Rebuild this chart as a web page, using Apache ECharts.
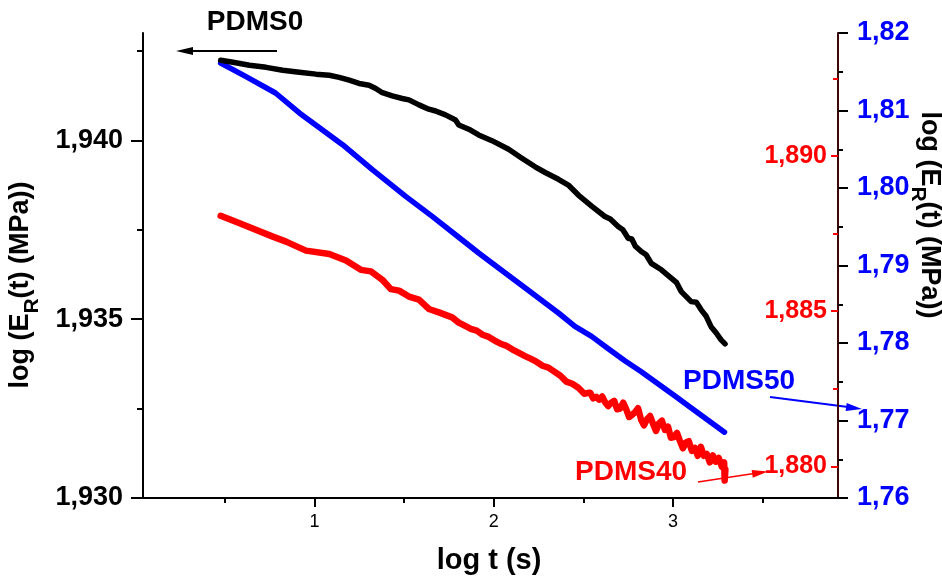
<!DOCTYPE html>
<html>
<head>
<meta charset="utf-8">
<script src="https://cdn.jsdelivr.net/npm/echarts@6/dist/echarts.min.js"></script>
<style>
  html, body { margin: 0; padding: 0; background: #fff; }
  #chart { width: 942px; height: 576px; }
</style>
</head>
<body>
<div id="chart"></div>
<script>
// Stress relaxation curves: log E_R(t) against log t for three PDMS samples.

// PDMS0 (left axis)
const pdms0LogT = [0.477, 0.546, 0.638, 0.731, 0.823, 0.916, 1.009, 1.083, 1.138, 1.194, 1.249, 1.305, 1.342,
  1.379, 1.434, 1.490, 1.527, 1.583, 1.638, 1.676, 1.731, 1.787, 1.805, 1.861, 1.916, 1.990, 2.083, 2.157,
  2.231, 2.287, 2.361, 2.416, 2.472, 2.546, 2.620, 2.650, 2.694, 2.720, 2.750, 2.770, 2.790, 2.823, 2.850,
  2.879, 2.935, 2.990, 3.020, 3.046, 3.101, 3.130, 3.157, 3.185, 3.212, 3.240, 3.268, 3.290];
const pdms0LogE = [1.94224, 1.94218, 1.94210, 1.94204, 1.94196, 1.94190, 1.94185, 1.94182, 1.94176, 1.94168,
  1.94159, 1.94154, 1.94145, 1.94133, 1.94124, 1.94117, 1.94113, 1.94099, 1.94087, 1.94082, 1.94071, 1.94057,
  1.94043, 1.94031, 1.94015, 1.93999, 1.93975, 1.93950, 1.93926, 1.93910, 1.93891, 1.93875, 1.93847, 1.93816,
  1.93787, 1.93780, 1.93759, 1.93750, 1.93726, 1.93724, 1.93704, 1.93689, 1.93680, 1.93656, 1.93638, 1.93615,
  1.93602, 1.93577, 1.93549, 1.93547, 1.93526, 1.93508, 1.93479, 1.93462, 1.93442, 1.93431];

// PDMS40 (inner right axis)
const pdms40LogT = [0.477, 0.583, 0.768, 0.842, 0.953, 1.083, 1.176, 1.259, 1.315, 1.379, 1.426, 1.472, 1.527,
  1.583, 1.638, 1.694, 1.768, 1.805, 1.838, 1.872, 1.905, 1.938, 1.972, 2.005, 2.038, 2.072, 2.105, 2.138,
  2.172, 2.205, 2.238, 2.272, 2.305, 2.338, 2.372, 2.405, 2.438, 2.472, 2.505, 2.522, 2.538, 2.555, 2.572,
  2.588, 2.605, 2.622, 2.638, 2.655, 2.672, 2.688, 2.705, 2.722, 2.738, 2.755, 2.772, 2.788, 2.805, 2.822,
  2.838, 2.855, 2.872, 2.888, 2.905, 2.922, 2.938, 2.955, 2.972, 2.988, 3.005, 3.022, 3.038, 3.055, 3.072,
  3.088, 3.105, 3.122, 3.138, 3.155, 3.172, 3.188, 3.205, 3.222, 3.238, 3.255, 3.272, 3.285, 3.288, 3.292];
const pdms40LogE = [1.88807, 1.88783, 1.88740, 1.88724, 1.88695, 1.88684, 1.88663, 1.88633, 1.88628, 1.88601,
  1.88571, 1.88566, 1.88547, 1.88537, 1.88507, 1.88496, 1.88480, 1.88463, 1.88453, 1.88443, 1.88437, 1.88424,
  1.88417, 1.88405, 1.88395, 1.88388, 1.88376, 1.88366, 1.88356, 1.88347, 1.88337, 1.88324, 1.88318, 1.88305,
  1.88292, 1.88273, 1.88266, 1.88253, 1.88234, 1.88236, 1.88237, 1.88219, 1.88224, 1.88215, 1.88225, 1.88206,
  1.88194, 1.88205, 1.88211, 1.88184, 1.88186, 1.88205, 1.88185, 1.88159, 1.88166, 1.88174, 1.88187, 1.88150,
  1.88132, 1.88152, 1.88162, 1.88138, 1.88114, 1.88139, 1.88147, 1.88117, 1.88128, 1.88092, 1.88094, 1.88108,
  1.88082, 1.88058, 1.88077, 1.88081, 1.88050, 1.88059, 1.88034, 1.88063, 1.88034, 1.88040, 1.88013, 1.88035,
  1.88015, 1.88027, 1.87999, 1.88013, 1.87954, 1.87990];

// PDMS50 (outer right axis)
const pdms50LogT = [0.477, 0.616, 0.783, 0.916, 1.064, 1.157, 1.323, 1.509, 1.657, 1.787, 1.916, 1.990, 2.176,
  2.361, 2.453, 2.546, 2.639, 2.731, 2.823, 3.009, 3.138, 3.287];
const pdms50LogE = [1.81613, 1.81440, 1.81226, 1.80968, 1.80717, 1.80559, 1.80236, 1.79892, 1.79634, 1.79397,
  1.79161, 1.79032, 1.78710, 1.78387, 1.78214, 1.78085, 1.77926, 1.77772, 1.77630, 1.77320, 1.77101, 1.76849];

// Tick positions
const xMajorTicks = [1, 2, 3];
const xMinorTicks = [0.5, 1.5, 2.5, 3.5];
const leftMajorTicks = [1.930, 1.935, 1.940];
const leftMinorTicks = [1.9325, 1.9375, 1.9425];
const redMajorTicks = [1.880, 1.885, 1.890];
const redMinorTicks = [1.8825, 1.8875, 1.8925];
const blueMajorTicks = [1.76, 1.77, 1.78, 1.79, 1.80, 1.81, 1.82];
const blueMinorTicks = [1.765, 1.775, 1.785, 1.795, 1.805, 1.815];

const FONT = '"Liberation Sans", Arial, sans-serif';
const RIGHT_LINE = '#3f0606';

const zip = (xs, ys) => xs.map((x, i) => [x, ys[i]]);
const comma = (digits) => (v) => Number(v).toFixed(digits).replace('.', ',');

const yBase = { type: 'value', splitLine: { show: false }, scale: false };

const chart = echarts.init(document.getElementById('chart'), null, { renderer: 'canvas' });

const nameRich = {
  a: { fontSize: 27, fontWeight: 'bold', fontFamily: FONT, color: '#000', verticalAlign: 'top', padding: [0, 0, 8, 0] },
  s: { fontSize: 21, fontWeight: 'bold', fontFamily: FONT, color: '#000', verticalAlign: 'bottom' }
};

chart.setOption({
  animation: false,
  backgroundColor: '#fff',
  grid: { left: 143, right: 104, top: 33, bottom: 78, containLabel: false },
  xAxis: [
    {
      type: 'value', min: 0.044, max: 3.92, position: 'bottom',
      splitLine: { show: false },
      axisLine: { lineStyle: { color: '#000', width: 2 } },
      axisTick: { customValues: xMajorTicks, length: 9, lineStyle: { color: '#000', width: 2 } },
      axisLabel: { customValues: xMajorTicks, fontSize: 18, fontFamily: FONT, color: '#000', margin: 15,
        formatter: (v) => String(v) }
    },
    {
      type: 'value', min: 0.044, max: 3.92, position: 'bottom',
      splitLine: { show: false },
      axisLine: { show: false },
      axisTick: { customValues: xMinorTicks, length: 5, lineStyle: { color: '#000', width: 2 } },
      axisLabel: { show: false }
    }
  ],
  yAxis: [
    Object.assign({}, yBase, {
      min: 1.930, max: 1.943, position: 'left',
      axisLine: { show: true, lineStyle: { color: '#000', width: 2 } },
      axisTick: { customValues: leftMajorTicks, length: 12, lineStyle: { color: '#000', width: 2 } },
      axisLabel: { customValues: leftMajorTicks, fontSize: 27, fontWeight: 'bold', fontFamily: FONT,
        color: '#000', margin: 20, formatter: comma(3) }
    }),
    Object.assign({}, yBase, {
      min: 1.930, max: 1.943, position: 'left',
      axisLine: { show: false },
      axisTick: { customValues: leftMinorTicks, length: 6, lineStyle: { color: '#000', width: 2 } },
      axisLabel: { show: false }
    }),
    Object.assign({}, yBase, {
      min: 1.87898, max: 1.89396, position: 'right',
      axisLine: { show: true, lineStyle: { color: RIGHT_LINE, width: 2 } },
      axisTick: { inside: true, customValues: redMajorTicks, length: 7, lineStyle: { color: '#ff0000', width: 2 } },
      axisLabel: { inside: true, customValues: redMajorTicks, fontSize: 25, fontWeight: 'bold', fontFamily: FONT,
        color: '#ff0000', margin: 11, formatter: comma(3) }
    }),
    Object.assign({}, yBase, {
      min: 1.87898, max: 1.89396, position: 'right',
      axisLine: { show: false },
      axisTick: { inside: true, customValues: redMinorTicks, length: 5, lineStyle: { color: '#ff0000', width: 2 } },
      axisLabel: { show: false }
    }),
    Object.assign({}, yBase, {
      min: 1.76, max: 1.82, position: 'right',
      axisLine: { show: false },
      axisTick: { customValues: blueMajorTicks, length: 10, lineStyle: { color: '#000', width: 2 } },
      axisLabel: { customValues: blueMajorTicks, fontSize: 27, fontWeight: 'bold', fontFamily: FONT,
        color: '#0000ff', margin: 19, formatter: comma(2) }
    }),
    Object.assign({}, yBase, {
      min: 1.76, max: 1.82, position: 'right',
      axisLine: { show: false },
      axisTick: { customValues: blueMinorTicks, length: 5, lineStyle: { color: '#000', width: 2 } },
      axisLabel: { show: false }
    })
  ],
  series: [
    {
      name: 'PDMS50', type: 'line', xAxisIndex: 0, yAxisIndex: 4, data: zip(pdms50LogT, pdms50LogE),
      showSymbol: false, symbol: 'none', smooth: false, clip: false,
      lineStyle: { color: '#0000ff', width: 5.5, cap: 'round', join: 'round' }
    },
    {
      name: 'PDMS40', type: 'line', xAxisIndex: 0, yAxisIndex: 2, data: zip(pdms40LogT, pdms40LogE),
      showSymbol: false, symbol: 'none', smooth: false, clip: false,
      lineStyle: { color: '#ff0000', width: 6.5, cap: 'round', join: 'round' }
    },
    {
      name: 'PDMS0', type: 'line', xAxisIndex: 0, yAxisIndex: 0, data: zip(pdms0LogT, pdms0LogE),
      showSymbol: false, symbol: 'none', smooth: false, clip: false,
      lineStyle: { color: '#000', width: 5.5, cap: 'round', join: 'round' }
    }
  ],
  graphic: [
    // axis titles
    {
      type: 'text', x: 25, y: 285, rotation: Math.PI / 2,
      style: { text: '{a|log (E}{s|R}{a|(t) (MPa))}', rich: nameRich, align: 'center', verticalAlign: 'middle' }
    },
    {
      type: 'text', x: 925, y: 215, rotation: -Math.PI / 2,
      style: { text: '{a|log (E}{s|R}{a|(t) (MPa))}', rich: nameRich, align: 'center', verticalAlign: 'middle' }
    },
    {
      type: 'text', x: 489, y: 561,
      style: { text: 'log t (s)', font: 'bold 29px ' + FONT, fill: '#000', align: 'center', verticalAlign: 'middle' }
    },
    // sample labels with arrows pointing to their axes
    {
      type: 'text', x: 255, y: 22,
      style: { text: 'PDMS0', font: 'bold 28px ' + FONT, fill: '#000', align: 'center', verticalAlign: 'middle' }
    },
    { type: 'line', shape: { x1: 277, y1: 51, x2: 190, y2: 51 }, style: { stroke: '#000', lineWidth: 2 } },
    { type: 'polygon', shape: { points: [[176, 51], [193, 47], [193, 55]] }, style: { fill: '#000' } },

    {
      type: 'text', x: 683, y: 381,
      style: { text: 'PDMS50', font: 'bold 28px ' + FONT, fill: '#0000ff', align: 'left', verticalAlign: 'middle' }
    },
    { type: 'line', shape: { x1: 770, y1: 397, x2: 848, y2: 407 }, style: { stroke: '#0000ff', lineWidth: 2 } },
    { type: 'polygon', shape: { points: [[862, 409], [846.7, 402.9], [845.6, 410.9]] }, style: { fill: '#0000ff' } },

    {
      type: 'text', x: 575, y: 472,
      style: { text: 'PDMS40', font: 'bold 28px ' + FONT, fill: '#ff0000', align: 'left', verticalAlign: 'middle' }
    },
    { type: 'line', shape: { x1: 698, y1: 482, x2: 754, y2: 473.6 }, style: { stroke: '#ff0000', lineWidth: 1.5 } },
    { type: 'polygon', shape: { points: [[768, 471.5], [752.8, 477.8], [751.6, 469.9]] }, style: { fill: '#ff0000' } }
  ]
});
</script>
</body>
</html>
